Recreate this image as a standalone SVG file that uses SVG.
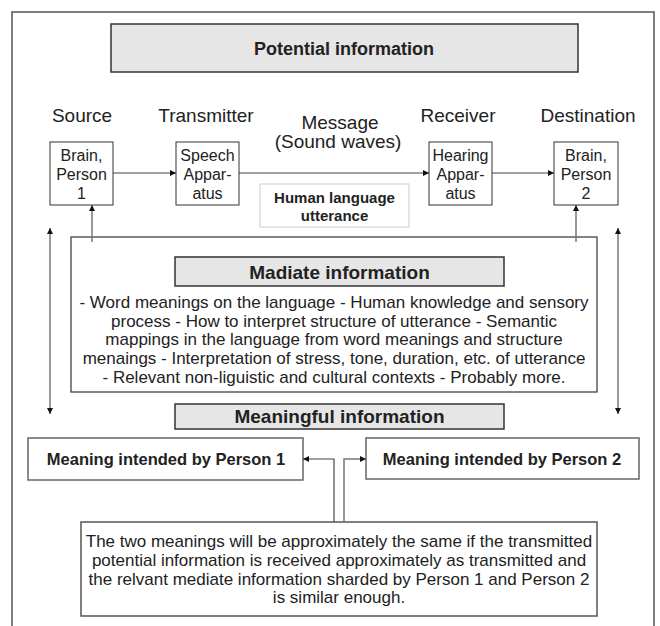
<svg xmlns="http://www.w3.org/2000/svg" width="660" height="626" viewBox="0 0 660 626">
<style>
text{font-family:"Liberation Sans",Arial,sans-serif;fill:#222;text-anchor:middle}
.lbl{font-size:19px}
.bx{font-size:16px}
.ttl{font-size:19px;font-weight:bold}
.b16{font-size:16.5px;font-weight:bold}
.hl{font-size:15px;font-weight:bold}
.body{font-size:17px}
.gray{fill:#e6e6e6;stroke:#333;stroke-width:1.5}
.node{fill:#fff;stroke:#333;stroke-width:1}
.mbox{fill:#fff;stroke:#666;stroke-width:1.5}
.c{fill:none;stroke:#444;stroke-width:1.2}
.cg{fill:none;stroke:#777;stroke-width:1.5}
</style>
<defs>
<marker id="ah" viewBox="0 0 6 6" markerWidth="6" markerHeight="6" refX="6" refY="3" orient="auto-start-reverse" markerUnits="userSpaceOnUse">
<path d="M0,0 L6,3 L0,6 z" fill="#111"/>
</marker>
</defs>
<rect x="12" y="12" width="642" height="630" fill="none" stroke="#555" stroke-width="1.5"/>
<g id="potential">
<rect class="gray" x="111" y="24" width="467" height="48"/>
<text class="ttl" x="344" y="55" style="font-size:18px">Potential information</text>
</g>
<g id="labels">
<text class="lbl" x="82" y="122">Source</text>
<text class="lbl" x="206" y="122">Transmitter</text>
<text class="lbl" x="340" y="129">Message</text>
<text class="lbl" x="338" y="148">(Sound waves)</text>
<text class="lbl" x="458" y="122">Receiver</text>
<text class="lbl" x="588" y="122">Destination</text>
</g>
<g id="brain1">
<rect class="node" x="50" y="142" width="63" height="63"/>
<text class="bx" x="81.5" y="161">Brain,</text>
<text class="bx" x="81.5" y="180">Person</text>
<text class="bx" x="81.5" y="199">1</text>
</g>
<g id="speech">
<rect class="node" x="176" y="142" width="63" height="63"/>
<text class="bx" x="207.5" y="161">Speech</text>
<text class="bx" x="207.5" y="180">Appar-</text>
<text class="bx" x="207.5" y="199">atus</text>
</g>
<g id="hearing">
<rect class="node" x="429" y="142" width="63" height="63"/>
<text class="bx" x="460.5" y="161">Hearing</text>
<text class="bx" x="460.5" y="180">Appar-</text>
<text class="bx" x="460.5" y="199">atus</text>
</g>
<g id="brain2">
<rect class="node" x="554" y="142" width="64" height="63"/>
<text class="bx" x="586" y="161">Brain,</text>
<text class="bx" x="586" y="180">Person</text>
<text class="bx" x="586" y="199">2</text>
</g>
<g id="utterance">
<rect x="260" y="184" width="149" height="43" fill="#fff" stroke="#ccc" stroke-width="1"/>
<text class="hl" x="334.5" y="203">Human language</text>
<text class="hl" x="334.5" y="221">utterance</text>
</g>
<g id="mediate">
<rect x="71" y="237" width="526" height="155" fill="#fff" stroke="#333" stroke-width="1.2"/>
<rect class="gray" x="175" y="257" width="329" height="29"/>
<text class="ttl" x="339.5" y="279">Madiate information</text>
<text class="body" x="334" y="308">- Word meanings on the language - Human knowledge and sensory</text>
<text class="body" x="334" y="327">process - How to interpret structure of utterance - Semantic</text>
<text class="body" x="334" y="345">mappings in the language from word meanings and structure</text>
<text class="body" x="334" y="364">menaings - Interpretation of stress, tone, duration, etc. of utterance</text>
<text class="body" x="334" y="383">- Relevant non-liguistic and cultural contexts - Probably more.</text>
</g>
<g id="meaningful">
<rect class="gray" x="175" y="404" width="329" height="25"/>
<text class="ttl" x="339.5" y="423">Meaningful information</text>
</g>
<g id="meaning1">
<rect class="mbox" x="28" y="438" width="275" height="42"/>
<text class="b16" x="166" y="465">Meaning intended by Person 1</text>
</g>
<g id="meaning2">
<rect class="mbox" x="366" y="438" width="273" height="41"/>
<text class="b16" x="502" y="465">Meaning intended by Person 2</text>
</g>
<g id="conclusion">
<rect x="81" y="522" width="516" height="94" fill="#fff" stroke="#555" stroke-width="1.5"/>
<text class="body" x="339" y="547">The two meanings will be approximately the same if the transmitted</text>
<text class="body" x="339" y="566">potential information is received approximately as transmitted and</text>
<text class="body" x="339" y="585">the relvant mediate information sharded by Person 1 and Person 2</text>
<text class="body" x="339" y="603">is similar enough.</text>
</g>
<g id="connectors">
<line class="c" x1="113" y1="173" x2="176" y2="173" marker-end="url(#ah)"/>
<line class="c" x1="239" y1="173" x2="429" y2="173" marker-end="url(#ah)"/>
<line class="c" x1="492" y1="173" x2="554" y2="173" marker-end="url(#ah)"/>
<line class="cg" x1="92" y1="242" x2="92" y2="205" marker-end="url(#ah)"/>
<line class="cg" x1="576" y1="242" x2="576" y2="205" marker-end="url(#ah)"/>
<line class="cg" x1="50" y1="228" x2="50" y2="414" marker-start="url(#ah)" marker-end="url(#ah)"/>
<line class="cg" x1="618" y1="228" x2="618" y2="414" marker-start="url(#ah)" marker-end="url(#ah)"/>
<polyline class="c" points="334,522 334,459 303,459" marker-end="url(#ah)"/>
<polyline class="cg" points="344,522 344,459 366,459" marker-end="url(#ah)"/>
</g>
</svg>
